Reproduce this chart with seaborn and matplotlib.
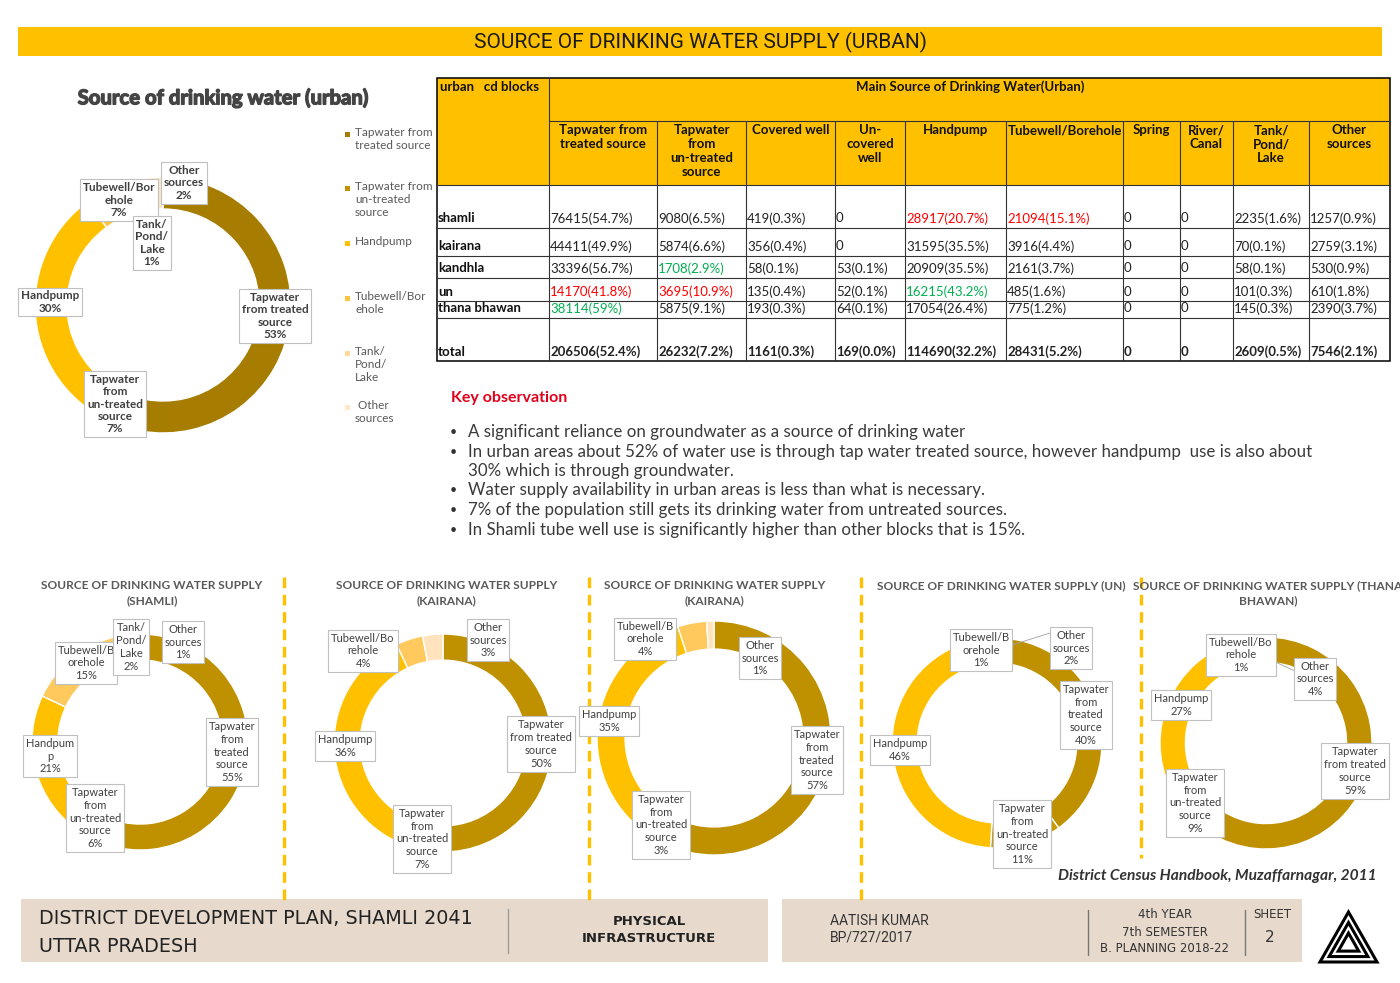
import matplotlib
matplotlib.use("Agg")
import matplotlib.pyplot as plt
import matplotlib.patheffects as pe
from matplotlib.patches import Rectangle, Polygon
import seaborn as sns

# ---------------- data ----------------
sources = ["Tapwater from treated source", "Tapwater from un-treated source", "Handpump",
           "Tubewell/Borehole", "Tank/Pond/Lake", "Other sources"]

# donut shares (%) as printed on the charts
urban_pct = [53, 7, 30, 7, 1, 2]
shamli_pct = [55, 6, 21, 15, 2, 1]
kairana_pct = [50, 7, 36, 4, 0, 3]
kandhla_pct = [57, 3, 35, 4, 0, 1]
un_pct = [40, 11, 46, 1, 0, 2]
thana_pct = [59, 9, 27, 1, 0, 4]

# label names the way excel wrapped them on each chart
urban_labels = ["Tapwater\nfrom treated\nsource", "Tapwater\nfrom\nun-treated\nsource", "Handpump",
                "Tubewell/Bor\nehole", "Tank/\nPond/\nLake", "Other\nsources"]
shamli_labels = ["Tapwater\nfrom\ntreated\nsource", "Tapwater\nfrom\nun-treated\nsource", "Handpum\np",
                 "Tubewell/B\norehole", "Tank/\nPond/\nLake", "Other\nsources"]
kairana_labels = ["Tapwater\nfrom treated\nsource", "Tapwater\nfrom\nun-treated\nsource", "Handpump",
                  "Tubewell/Bo\nrehole", "", "Other\nsources"]
kandhla_labels = ["Tapwater\nfrom\ntreated\nsource", "Tapwater\nfrom\nun-treated\nsource", "Handpump",
                  "Tubewell/B\norehole", "", "Other\nsources"]
un_labels = ["Tapwater\nfrom\ntreated\nsource", "Tapwater\nfrom\nun-treated\nsource", "Handpump",
             "Tubewell/B\norehole", "", "Other\nsources"]
thana_labels = ["Tapwater\nfrom treated\nsource", "Tapwater\nfrom\nun-treated\nsource", "Handpump",
                "Tubewell/Bo\nrehole", "", "Other\nsources"]

legend_labels = ["Tapwater from\ntreated source", "Tapwater from\nun-treated\nsource", "Handpump",
                 "Tubewell/Bor\nehole", "Tank/\nPond/\nLake", " Other\nsources"]

# table
blocks = ["shamli", "kairana", "kandhla", "un", "thana bhawan", "total"]
col_heads = ["Tapwater from\ntreated source", "Tapwater\nfrom\nun-treated\nsource", "Covered well",
             "Un-\ncovered\nwell", "Handpump", "Tubewell/Borehole", "Spring", "River/\nCanal",
             "Tank/\nPond/\nLake", "Other\nsources"]
tap_treated = ["76415(54.7%)", "44411(49.9%)", "33396(56.7%)", "14170(41.8%)", "38114(59%)", "206506(52.4%)"]
tap_untreated = ["9080(6.5%)", "5874(6.6%)", "1708(2.9%)", "3695(10.9%)", "5875(9.1%)", "26232(7.2%)"]
covered_well = ["419(0.3%)", "356(0.4%)", "58(0.1%)", "135(0.4%)", "193(0.3%)", "1161(0.3%)"]
uncovered_well = ["0", "0", "53(0.1%)", "52(0.1%)", "64(0.1%)", "169(0.0%)"]
handpump = ["28917(20.7%)", "31595(35.5%)", "20909(35.5%)", "16215(43.2%)", "17054(26.4%)", "114690(32.2%)"]
tubewell = ["21094(15.1%)", "3916(4.4%)", "2161(3.7%)", "485(1.6%)", "775(1.2%)", "28431(5.2%)"]
spring = ["0", "0", "0", "0", "0", "0"]
river_canal = ["0", "0", "0", "0", "0", "0"]
tank_pond = ["2235(1.6%)", "70(0.1%)", "58(0.1%)", "101(0.3%)", "145(0.3%)", "2609(0.5%)"]
other_src = ["1257(0.9%)", "2759(3.1%)", "530(0.9%)", "610(1.8%)", "2390(3.7%)", "7546(2.1%)"]
red_cells = [(0, 4), (0, 5), (3, 0), (3, 1)]
green_cells = [(2, 1), (3, 4), (4, 0)]

observations = [
    "A significant reliance on groundwater as a source of drinking water",
    "In urban areas about 52% of water use is through tap water treated source, however handpump  use is also about\n"
    "30% which is through groundwater.",
    "Water supply availability in urban areas is less than what is necessary.",
    "7% of the population still gets its drinking water from untreated sources.",
    "In Shamli tube well use is significantly higher than other blocks that is 15%.",
]

# ---------------- style ----------------
sns.set_theme(style="white")
plt.rcParams["font.family"] = ["Lato", "DejaVu Sans"]
main_colors = sns.color_palette(["#A67D00", "#BF9000", "#FFC000", "#FFC43D", "#FFD89A", "#FFE8C8"])
small_colors = sns.color_palette(["#BF9000", "#C99A00", "#FFC000", "#FFC95E", "#FFDA9E", "#FFE3BC"])
YELLOW = "#FFC000"
GREY = "#404040"
W, H = 1400, 983

fig = plt.figure(figsize=(14, 9.83), dpi=100)
fig.patch.set_facecolor("white")

# full-figure canvas in pixel coordinates (y downwards), drawn above the donuts
cv = fig.add_axes([0, 0, 1, 1], zorder=10)
cv.set_xlim(0, W)
cv.set_ylim(H, 0)
cv.axis("off")


def donut(cx, cy, r, pct, palette, width=0.25):
    ax = fig.add_axes([(cx - r) / W, 1 - (cy + r) / H, 2 * r / W, 2 * r / H], zorder=1)
    vals = [v for v in pct if v > 0]
    cols = [c for v, c in zip(pct, palette) if v > 0]
    ax.pie(vals, colors=cols, startangle=90, counterclock=False,
           wedgeprops=dict(width=width, edgecolor="white", linewidth=1))
    ax.set_xlim(-1, 1)
    ax.set_ylim(-1, 1)
    ax.axis("off")
    return ax


def labels(pct, names, pos, bold=False, fs=8):
    for i, (v, n, p) in enumerate(zip(pct, names, pos)):
        if v <= 0 or p is None:
            continue
        cv.text(p[0], p[1], f"{n}\n{v}%", ha="center", va="center", multialignment="center",
                fontsize=fs, color=GREY, fontweight="bold" if bold else "normal",
                linespacing=1.12 if bold else 1.22, zorder=20 + i,
                bbox=dict(boxstyle="square,pad=0.25", fc="white", ec="#C0C0C0", lw=0.8))


# ---------------- banner ----------------
cv.add_patch(Rectangle((18, 27), 1364, 29, fc=YELLOW, ec="none"))
cv.text(700, 42, "SOURCE OF DRINKING WATER SUPPLY (URBAN)", ha="center", va="center",
        fontsize=15, family="Roboto", color="#1a1a1a")

# ---------------- main donut ----------------
cv.text(223, 98, "Source of drinking water (urban)", ha="center", va="center",
        fontsize=14.6, fontweight="bold", color="#444444",
        path_effects=[pe.withStroke(linewidth=1.0, foreground="#444444")])
donut(163, 305, 128, urban_pct, main_colors)
cv.plot([146, 147], [215, 182], color="#A0A0A0", lw=0.6, zorder=19)
labels(urban_pct, urban_labels,
       [(275, 316), (115, 404), (50, 302), (119, 200), (152, 243), (184, 183)], bold=True, fs=8.5)

legend_y = [134, 188, 243, 298, 353, 407]
for lab, ly, c in zip(legend_labels, legend_y, main_colors):
    cv.add_patch(Rectangle((345, ly - 2.5), 5, 5, fc=c, ec="none"))
    cv.text(355, ly - 7, lab, ha="left", va="top", fontsize=8.5, color="#595959", linespacing=1.2)

# ---------------- table ----------------
col_x = [437, 549, 657, 746, 835, 905, 1006, 1123, 1180, 1233, 1309, 1390]
row_y = [185, 228, 256, 278, 301, 318, 361]
columns = [tap_treated, tap_untreated, covered_well, uncovered_well, handpump, tubewell,
           spring, river_canal, tank_pond, other_src]
TFS = 9.5

cv.add_patch(Rectangle((437, 78), 1390 - 437, 185 - 78, fc=YELLOW, ec="none"))
line_kw = dict(color="#333333", lw=0.8)
cv.plot([549, 1390], [121, 121], **line_kw)
for yy in row_y[:-1]:
    cv.plot([437, 1390], [yy, yy], **line_kw)
cv.plot([549, 549], [78, 361], **line_kw)
for xx in col_x[2:-1]:
    cv.plot([xx, xx], [121, 361], **line_kw)
cv.add_patch(Rectangle((437, 78), 1390 - 437, 361 - 78, fc="none", ec="black", lw=1.1))

cv.text(440, 87, "urban   cd blocks", ha="left", va="center", fontsize=TFS, fontweight="bold", color="#111")
cv.text(970, 87, "Main Source of Drinking Water(Urban)", ha="center", va="center",
        fontsize=TFS, fontweight="bold", color="#111")
for j, head in enumerate(col_heads):
    cv.text((col_x[j + 1] + col_x[j + 2]) / 2, 124.5, head, ha="center", va="top",
            multialignment="center", fontsize=TFS, fontweight="bold", color="#111", linespacing=1.17)

for i, blk in enumerate(blocks):
    yb = row_y[i + 1] - 9.5
    is_total = blk == "total"
    cv.text(438, yb, blk, ha="left", va="center", fontsize=TFS, fontweight="bold", color="#111")
    for j, col in enumerate(columns):
        c = "#222222"
        if (i, j) in red_cells:
            c = "#FF0000"
        elif (i, j) in green_cells:
            c = "#00B050"
        cv.text(col_x[j + 1] + 1, yb, col[i], ha="left", va="center", fontsize=TFS,
                fontweight="bold" if is_total else "normal", color=c)

# ---------------- key observations ----------------
cv.text(451, 398, "Key observation", ha="left", va="center", fontsize=11.5,
        fontweight="bold", color="#E3001B")
yy = 432
for obs in observations:
    cv.text(450, yy, "•", ha="left", va="center", fontsize=9, color="#333")
    cv.text(468, yy - 8, obs, ha="left", va="top", fontsize=12.2, color="#3a3a3a",
            linespacing=1.24)
    yy += 19.5 * (obs.count("\n") + 1)

# ---------------- district donuts ----------------
districts = [
    ("SOURCE OF DRINKING WATER SUPPLY\n(SHAMLI)", 152, (140, 742, 108), shamli_pct, shamli_labels,
     [(232, 752), (95, 818), (50, 756), (86, 663), (131, 647), (183, 642)]),
    ("SOURCE OF DRINKING WATER SUPPLY\n(KAIRANA)", 447, (443, 743, 109), kairana_pct, kairana_labels,
     [(541, 744), (422, 839), (345, 746), (363, 651), None, (488, 640)]),
    ("SOURCE OF DRINKING WATER SUPPLY\n(KAIRANA)", 715, (714, 738, 117), kandhla_pct, kandhla_labels,
     [(817, 760), (661, 825), (609, 721), (645, 639), None, (760, 658)]),
    ("SOURCE OF DRINKING WATER SUPPLY (UN)", 1001, (997, 743, 105), un_pct, un_labels,
     [(1086, 715), (1022, 834), (900, 750), (981, 650), None, (1071, 648)]),
    ("SOURCE OF DRINKING WATER SUPPLY (THANA\nBHAWAN)", 1268, (1266, 743, 106), thana_pct, thana_labels,
     [(1355, 771), (1195, 803), (1181, 705), (1241, 655), None, (1315, 679)]),
]
for title, tx, (cx, cy, r), pct, names, pos in districts:
    cv.text(tx, 580, title, ha="center", va="top", fontsize=8.6, fontweight="bold",
            color="#595959", linespacing=1.45)
    donut(cx, cy, r, pct, small_colors, width=0.24)
    labels(pct, names, pos, fs=8)

# leader lines
cv.plot([1012, 1050], [645, 633], color="#A0A0A0", lw=0.6, zorder=19)
cv.plot([1258, 1295], [654, 671], color="#A0A0A0", lw=0.6, zorder=19)

# dashed separators
for sx, y1 in [(284, 905), (589, 905), (861, 900), (1141, 858)]:
    cv.plot([sx, sx], [577, y1], color=YELLOW, lw=2.4, dashes=(3.2, 2.0), zorder=2)

cv.text(1377, 876, "District Census Handbook, Muzaffarnagar, 2011", ha="right", va="center",
        fontsize=11.2, fontweight="bold", style="italic", color="#333")

# ---------------- footer ----------------
BEIGE = "#E7DACD"
cv.add_patch(Rectangle((21, 899), 747, 63, fc=BEIGE, ec="none"))
cv.add_patch(Rectangle((782, 899), 520, 63, fc=BEIGE, ec="none"))
cv.text(39, 918, "DISTRICT DEVELOPMENT PLAN, SHAMLI 2041", ha="left", va="center",
        fontsize=13.8, family="DejaVu Sans", color="#222")
cv.text(39, 946, "UTTAR PRADESH", ha="left", va="center", fontsize=13.8, family="DejaVu Sans", color="#222")
cv.plot([508, 508], [909, 953], color="#9a9a9a", lw=1)
cv.text(649, 930, "PHYSICAL\nINFRASTRUCTURE", ha="center", va="center", fontsize=9.5,
        family="DejaVu Sans", fontweight="bold", color="#222", linespacing=1.45)
cv.text(830, 921, "AATISH KUMAR", ha="left", va="center", fontsize=10, family="Roboto", color="#333")
cv.text(830, 938, "BP/727/2017", ha="left", va="center", fontsize=10, family="Roboto", color="#333")
cv.plot([1088, 1088], [910, 955], color="#777", lw=1)
for txt, ty in [("4th YEAR", 915), ("7th SEMESTER", 932), ("B. PLANNING 2018-22", 948)]:
    cv.text(1165, ty, txt, ha="center", va="center", fontsize=8.5, family="DejaVu Sans", color="#333")
cv.plot([1245, 1245], [910, 955], color="#777", lw=1)
cv.text(1272, 915, "SHEET", ha="center", va="center", fontsize=8.5, family="DejaVu Sans", color="#333")
cv.text(1270, 938, "2", ha="center", va="center", fontsize=11, family="DejaVu Sans", color="#333")

# logo: nested triangles
gx, gy = 1348.5, 945
for k, s in enumerate([1.0, 0.68, 0.36]):
    tri = [(gx + (1320 - gx) * s, gy + (962 - gy) * s), (gx + (1348.5 - gx) * s, gy + (912 - gy) * s),
           (gx + (1377 - gx) * s, gy + (962 - gy) * s)]
    cv.add_patch(Polygon(tri, closed=True, fc="none", ec="black", lw=2.2))

fig.savefig("out.png", dpi=100, facecolor="white")
